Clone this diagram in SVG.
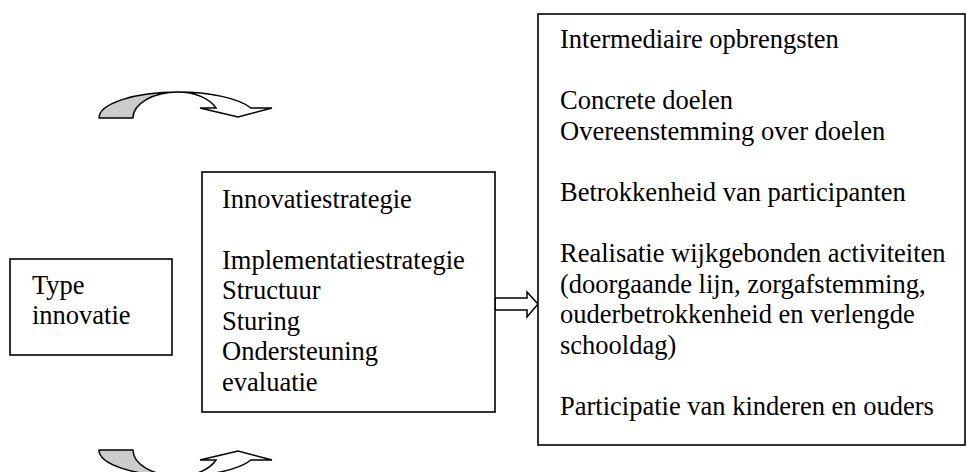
<svg xmlns="http://www.w3.org/2000/svg" width="967" height="472" viewBox="0 0 967 472">
  <style>
    .box { fill: #ffffff; stroke: #000000; stroke-width: 1.6; }
    .txt { font-family: "Liberation Serif", "Times New Roman", serif; font-size: 26.5px; fill: #000000; }
    .arrow { fill: #ffffff; stroke: #000000; stroke-width: 1.5; stroke-linejoin: miter; }
    .shade { fill: #cccccc; stroke: #000000; stroke-width: 1.5; stroke-linejoin: round; }
  </style>
  <defs>
    <g id="curved">
      <path class="shade" d="M 99,118 A 79,26 0 0 1 178,92 A 45,26 0 0 0 133,118 Z"/>
      <path class="arrow" d="M 178,92 A 79,26 0 0 1 251,108 L 272,108 L 238,117 L 200,108 L 216,108 A 41.2,26 0 0 0 178,92 Z"/>
    </g>
  </defs>
  <rect x="0" y="0" width="967" height="472" fill="#ffffff"/>

  <g id="connectors">
    <path class="arrow" d="M 495,298 L 527,298 L 527,292 L 538,304 L 527,317 L 527,310 L 495,310 Z"/>
    <use href="#curved"/>
    <use href="#curved" transform="matrix(1,0,0,-1,0,568)"/>
  </g>

  <g id="type-innovatie">
    <rect class="box" x="10" y="259" width="162" height="96"/>
    <text class="txt" x="32" y="294">Type</text>
    <text class="txt" x="32" y="324">innovatie</text>
  </g>

  <g id="innovatiestrategie">
    <rect class="box" x="202" y="172" width="293" height="240"/>
    <text class="txt" x="222" y="208">Innovatiestrategie</text>
    <text class="txt" x="222" y="269">Implementatiestrategie</text>
    <text class="txt" x="222" y="299">Structuur</text>
    <text class="txt" x="222" y="330">Sturing</text>
    <text class="txt" x="222" y="360">Ondersteuning</text>
    <text class="txt" x="222" y="391">evaluatie</text>
  </g>

  <g id="intermediaire-opbrengsten">
    <rect class="box" x="538" y="14" width="427" height="431"/>
    <text class="txt" x="560" y="48">Intermediaire opbrengsten</text>
    <text class="txt" x="560" y="109">Concrete doelen</text>
    <text class="txt" x="560" y="140">Overeenstemming over doelen</text>
    <text class="txt" x="560" y="201">Betrokkenheid van participanten</text>
    <text class="txt" x="560" y="262">Realisatie wijkgebonden activiteiten</text>
    <text class="txt" x="560" y="293">(doorgaande lijn, zorgafstemming,</text>
    <text class="txt" x="560" y="323">ouderbetrokkenheid en verlengde</text>
    <text class="txt" x="560" y="354">schooldag)</text>
    <text class="txt" x="560" y="415">Participatie van kinderen en ouders</text>
  </g>
</svg>
